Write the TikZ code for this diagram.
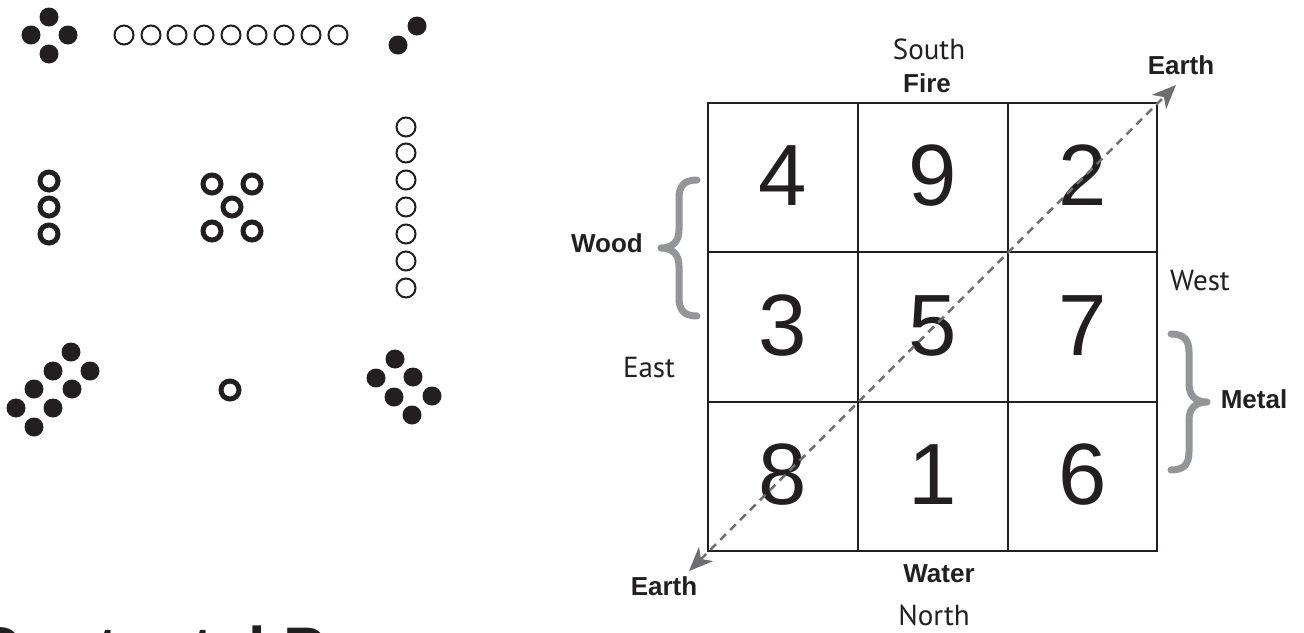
\documentclass[tikz,border=0pt]{standalone}
\usepackage{fontspec}
\setmainfont{Liberation Sans}
\newfontfamily\dirfont{PT Sans}
\usetikzlibrary{arrows.meta}
\definecolor{ink}{HTML}{231F20}
\definecolor{bracegray}{HTML}{939598}
\definecolor{dashgray}{HTML}{6D6E71}
\tikzset{
  gridline/.style={draw=ink, line width=1.8pt},
  digit/.style={anchor=base, inner sep=0pt, text=ink, font=\fontsize{87}{87}\selectfont},
  elem/.style={anchor=base, inner sep=0pt, text=ink, font=\bfseries\fontsize{26}{26}\selectfont},
  dir/.style={anchor=base, inner sep=0pt, text=ink, font=\dirfont\fontsize{29}{29}\selectfont},
  brace/.style={draw=bracegray, line width=7pt, line cap=round, line join=round},
  diag/.style={draw=dashgray, line width=2.5pt, dash pattern=on 8pt off 6pt,
    {Stealth[length=24pt,width=20pt,inset=7pt]}-{Stealth[length=24pt,width=20pt,inset=7pt]}},
  blackdot/.style={fill=ink},
  thickring/.style={draw=ink, line width=5pt},
  thinring/.style={draw=ink, line width=2pt}
}
\begin{document}
\begin{tikzpicture}[x=1pt,y=-1pt]
\useasboundingbox (0,0) rectangle (1304,632);
\clip (0,0) rectangle (1304,632);
\fill[white] (0,0) rectangle (1304,632);

% ---------- Lo Shu dot pattern ----------
% top row
\foreach \p in {(49,17),(31,35),(68,35),(49,54)} \fill[blackdot] \p circle (9.5);
\foreach \x in {124,151,177,204,231,257,284,311,338} \draw[thinring] (\x,35) circle (9.5);
\foreach \p in {(417,26),(398,45)} \fill[blackdot] \p circle (9.5);
% middle row
\foreach \y in {181,207,234} \draw[thickring] (49,\y) circle (9);
\foreach \p in {(212,184),(252,184),(232,207),(212,231),(252,231)} \draw[thickring] \p circle (9);
\foreach \y in {127,153,180,207,234,261,288} \draw[thinring] (406,\y) circle (9.5);
% bottom row
\foreach \p in {(71,352),(53,371),(90,371),(34,389),(72,389),(16,408),(53,408),(34,427)} \fill[blackdot] \p circle (9.5);
\draw[thickring] (230,390) circle (9);
\foreach \p in {(395,359),(376,378),(413,377),(394,397),(432,396),(412,415)} \fill[blackdot] \p circle (9.5);

% cut-off caption
\node[anchor=base west, inner sep=0pt, text=ink, font=\bfseries\fontsize{63}{63}\selectfont] (caption) at (-25,671) {Contental P};

% ---------- Magic square ----------
\coordinate (nw) at (708,103);
\coordinate (se) at (1157,551);
\draw[gridline] (nw) rectangle (se);
\draw[gridline] (858,103) -- (858,551);
\draw[gridline] (1008,103) -- (1008,551);
\draw[gridline] (708,252) -- (1157,252);
\draw[gridline] (708,402) -- (1157,402);

\node[digit] (n4) at (783,205.5) {4};
\node[digit] (n9) at (933,205.5) {9};
\node[digit] (n2) at (1082.5,205.5) {2};
\node[digit] (n3) at (783,355) {3};
\node[digit] (n5) at (933,355) {5};
\node[digit] (n7) at (1082.5,355) {7};
\node[digit] (n8) at (783,504.5) {8};
\node[digit] (n1) at (933,504.5) {1};
\node[digit] (n6) at (1082.5,504.5) {6};

% diagonal arrow
\coordinate (tipBL) at (689,571);
\coordinate (tipTR) at (1176,85);
\draw[diag] (tipBL) -- (tipTR);

% labels
\node[dir] (south) at (929,59) {South};
\node[elem] (fire) at (927,92) {Fire};
\node[elem] (earthTR) at (1181,74) {Earth};
\node[elem] (earthBL) at (664,595) {Earth};
\node[elem] (water) at (939,582) {Water};
\node[dir] (north) at (934,625) {North};
\node[elem] (wood) at (607,252) {Wood};
\node[dir] (east) at (649,377) {East};
\node[dir] (west) at (1200,290) {West};
\node[elem] (metal) at (1254,408) {Metal};

% braces
\draw[brace] (697,180) .. controls (684,180) and (679,186) .. (679,198)
  -- (679,230) .. controls (679,242) and (672,248) .. (661,248)
  .. controls (672,248) and (679,254) .. (679,266)
  -- (679,298) .. controls (679,310) and (684,316) .. (697,316);
\draw[brace] (1171,334) .. controls (1184,334) and (1189,340) .. (1189,352)
  -- (1189,384) .. controls (1189,396) and (1196,402) .. (1207,402)
  .. controls (1196,402) and (1189,408) .. (1189,420)
  -- (1189,452) .. controls (1189,464) and (1184,470) .. (1171,470);
\end{tikzpicture}
\end{document}
